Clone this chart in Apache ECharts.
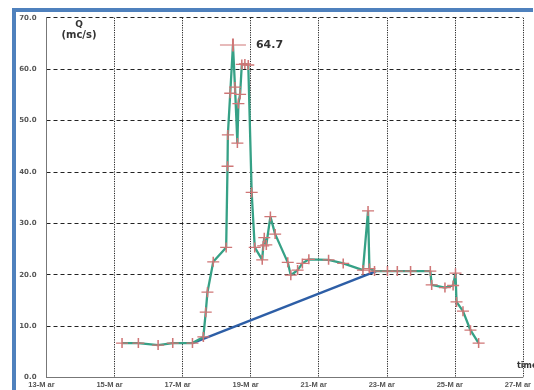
<!DOCTYPE html>
<html>
<head>
<meta charset="utf-8">
<script src="https://cdn.jsdelivr.net/npm/echarts@6/dist/echarts.min.js"></script>
<style>
  html, body { margin: 0; padding: 0; background: #fff; }
  #chart { width: 534px; height: 390px; }
</style>
</head>
<body>
<div id="chart"></div>
<script>
// Discharge hydrograph, 13–27 March
const firstDay = 13;            // axis origin: 13 March
const lastDay = 27;
const tickDays = [13, 15, 17, 19, 21, 23, 25, 27];
const yTicks = [0, 10, 20, 30, 40, 50, 60, 70];

// measured discharge: day of March (fractional) and Q in m³/s
const obsDay = [15.22, 15.70, 16.28, 16.71, 17.29, 17.61, 17.68, 17.73, 17.90, 18.28,
  18.32, 18.33, 18.40, 18.48, 18.54, 18.61, 18.64, 18.69, 18.74, 18.83,
  18.93, 19.03, 19.12, 19.34, 19.37, 19.40, 19.46, 19.58, 19.72, 20.09,
  20.18, 20.38, 20.52, 20.71, 21.29, 21.72, 22.30, 22.45, 22.49, 22.64,
  23.02, 23.31, 23.70, 24.28, 24.32, 24.71, 24.95, 25.02, 25.05, 25.24,
  25.46, 25.70];
const obsQ = [6.7, 6.7, 6.3, 6.7, 6.7, 7.9, 12.7, 16.6, 22.5, 25.3,
  41.1, 47.2, 55.3, 64.7, 56.5, 45.6, 53.3, 55.1, 60.9, 61.0,
  60.8, 36.0, 25.3, 22.9, 25.6, 27.2, 25.8, 31.3, 27.9, 22.4,
  19.9, 20.9, 22.2, 23.0, 22.9, 22.2, 20.9, 32.4, 21.2, 20.7,
  20.7, 20.7, 20.7, 20.7, 18.0, 17.5, 17.9, 20.3, 14.7, 12.9,
  9.2, 6.7];

// baseflow separation line
const baseDay = [17.29, 22.69];
const baseQ = [6.7, 20.7];

const peakQ = Math.max(...obsQ);

const crossPath = 'path://M0,5L10,5M5,0L5,10';
const crossColor = '#cf7676';
const labelFont = 'DejaVu Sans';

const obsData = obsDay.map((d, i) => {
  const item = { value: [d - firstDay, obsQ[i]] };
  if (obsQ[i] === peakQ) {
    item.symbolSize = [26, 13];
    item.label = {
      show: true, position: 'right', distance: 9,
      formatter: () => peakQ.toFixed(1),
      fontFamily: labelFont, fontWeight: 'bold', fontSize: 11, color: '#333'
    };
  }
  return item;
});
const baseData = baseDay.map((d, i) => [d - firstDay, baseQ[i]]);

const chart = echarts.init(document.getElementById('chart'), null, { renderer: 'canvas' });
chart.setOption({
  animation: false,
  backgroundColor: '#fff',
  grid: { left: 46.5, right: 4, top: 17.7, bottom: 12.5, containLabel: false },
  xAxis: {
    type: 'value',
    min: 0, max: lastDay - firstDay, interval: 2,
    axisLine: { show: true, lineStyle: { color: '#777', width: 1 } },
    axisTick: { show: false },
    axisLabel: {
      margin: 3, fontSize: 7.5, fontWeight: 'bold', color: '#555',
      fontFamily: 'Liberation Sans', padding: [0, 10, 0, 0],
      formatter: v => tickDays.includes(v + firstDay) ? (v + firstDay) + '-M ar' : ''
    },
    splitLine: { show: true, lineStyle: { type: [1.2, 1.2], color: '#222', width: 1 } }
  },
  yAxis: {
    type: 'value',
    min: yTicks[0], max: yTicks[yTicks.length - 1], interval: 10,
    axisLine: { show: true, lineStyle: { color: '#777', width: 1 } },
    axisTick: { show: false },
    axisLabel: {
      margin: 10, fontSize: 7, fontWeight: 'bold', color: '#555',
      fontFamily: labelFont,
      formatter: v => v.toFixed(1)
    },
    splitLine: { show: true, lineStyle: { type: [4, 3], color: '#222', width: 1 } }
  },
  series: [
    {
      type: 'line',
      data: baseData,
      symbol: 'none',
      lineStyle: { color: '#2d5ea6', width: 2.5 },
      z: 2
    },
    {
      type: 'line',
      data: obsData,
      symbol: crossPath,
      symbolSize: [12, 10],
      showAllSymbol: true,
      itemStyle: { color: 'rgba(0,0,0,0)', borderColor: crossColor, borderWidth: 1.4 },
      lineStyle: { color: '#36a186', width: 2.3 },
      z: 3
    }
  ],
  graphic: [
    { type: 'rect', shape: { x: 12, y: 8, width: 521, height: 4 }, style: { fill: '#4f81bd' } },
    { type: 'rect', shape: { x: 12, y: 8, width: 4, height: 382 }, style: { fill: '#4f81bd' } },
    { type: 'text', x: 79, y: 25, style: { text: 'Q', fill: '#333', font: 'bold 9px "DejaVu Sans"', align: 'center', verticalAlign: 'middle' } },
    { type: 'text', x: 79, y: 35, style: { text: '(mc/s)', fill: '#333', font: 'bold 10px "DejaVu Sans"', align: 'center', verticalAlign: 'middle' } },
    { type: 'text', x: 517, y: 366, style: { text: 'time', fill: '#333', font: 'bold 8px "DejaVu Sans"', align: 'left', verticalAlign: 'middle' } }
  ]
});
</script>
</body>
</html>
